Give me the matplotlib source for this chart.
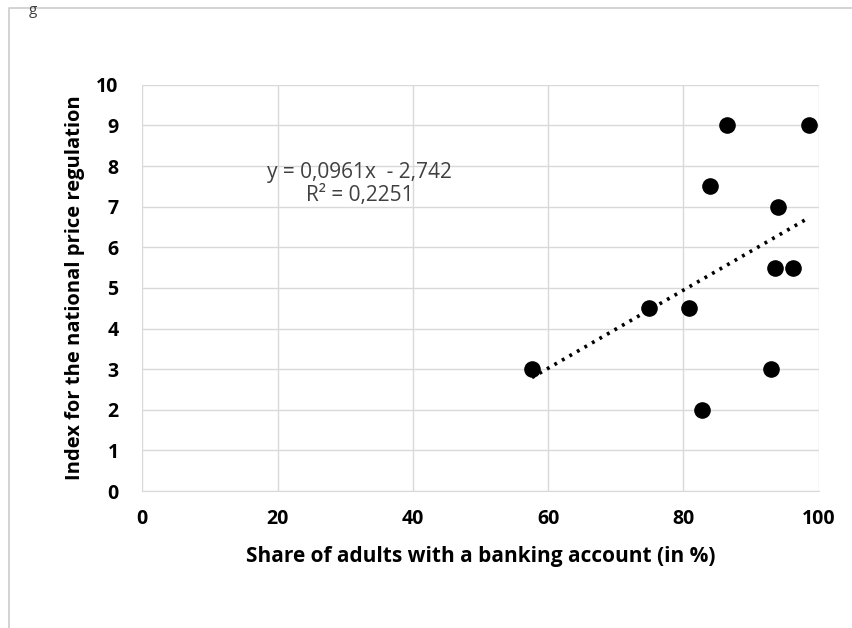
import numpy as np
import matplotlib.pyplot as plt
from matplotlib.lines import Line2D

plt.rcParams['font.family'] = ['Open Sans', 'DejaVu Sans']

# share of adults with a banking account (%) vs price regulation index
share = [57.6, 74.9, 80.8, 82.7, 83.9, 86.5, 93.9, 93.6, 96.2, 93.0, 98.6]
index = [3, 4.5, 4.5, 2, 7.5, 9, 7, 5.5, 5.5, 3, 9]

# linear trendline as shown in the chart
slope = 0.0961
intercept = -2.742
eq_text = 'y = 0,0961x  - 2,742'
r2_text = 'R² = 0,2251'

xticks = [0, 20, 40, 60, 80, 100]
yticks = list(range(0, 11))

fig = plt.figure(figsize=(8.52, 6.28), dpi=100)
ax = fig.add_axes([0.167, 0.218, 0.794, 0.647])

# outer frame (only top and left edges are visible)
bx = 8.5 / 852
by = 1 - 7.5 / 628
fig.lines.append(Line2D([bx, bx, 1], [0, by, by], transform=fig.transFigure,
                        color='#d0d0d0', lw=1.3))
# caption letter peeking in at the top left
fig.text(0.034, 0.995, 'g', fontsize=11, color='#404040', va='top', ha='left')

ax.scatter(share, index, s=120, color='black', zorder=3)

xs = np.array([min(share), max(share)])
ax.plot(xs, slope * xs + intercept, color='black', lw=2.6,
        linestyle=(0, (0.8, 1.6)), zorder=2)

ax.set_xlim(0, 100)
ax.set_ylim(0, 10)
ax.set_xticks(xticks)
ax.set_yticks(yticks)
ax.grid(True, color='#d9d9d9', lw=1)
ax.set_axisbelow(True)
for s in ['top', 'right', 'left']:
    ax.spines[s].set_visible(False)
ax.spines['bottom'].set_color('#d9d9d9')
ax.tick_params(length=0, labelsize=14)
ax.tick_params(axis='y', pad=17)
ax.tick_params(axis='x', pad=13)
for lbl in ax.get_xticklabels() + ax.get_yticklabels():
    lbl.set_fontweight('bold')

ax.set_xlabel('Share of adults with a banking account (in %)', fontsize=15,
              fontweight='bold', labelpad=12)
ax.set_ylabel('Index for the national price regulation', fontsize=14.5,
              fontweight='bold', labelpad=8)

ax.text(32.1, 7.83, eq_text, fontsize=15, ha='center', va='center', color='#404040')
ax.text(32.1, 7.27, r2_text, fontsize=15, ha='center', va='center', color='#404040')

fig.savefig('out.png', dpi=100)
